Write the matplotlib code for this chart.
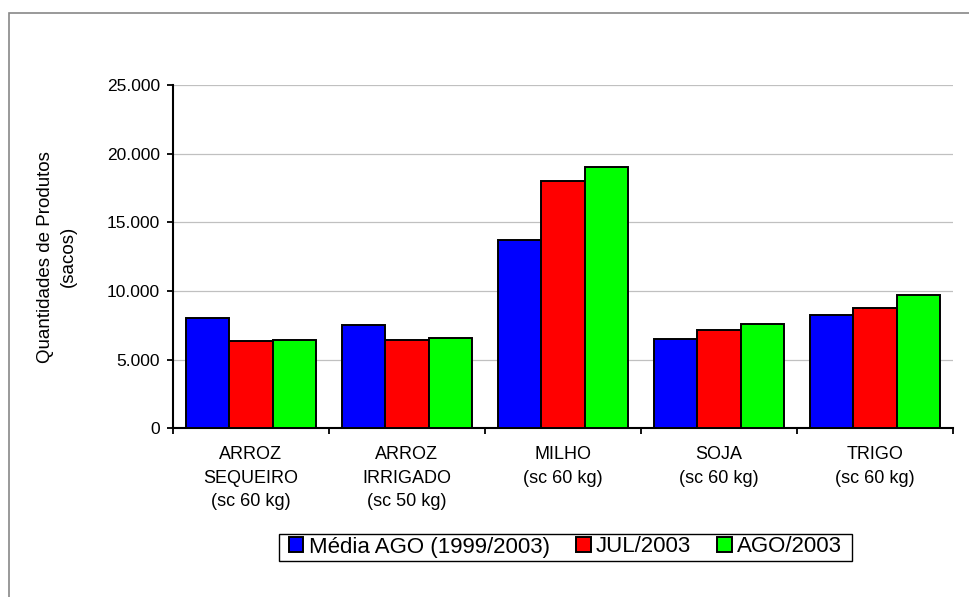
import numpy as np
import matplotlib
matplotlib.use("Agg")
import matplotlib.pyplot as plt
from matplotlib.patches import Rectangle
from matplotlib.ticker import FuncFormatter

plt.rcParams['font.family'] = ['Liberation Sans', 'DejaVu Sans']

categorias = ["ARROZ\nSEQUEIRO\n(sc 60 kg)", "ARROZ\nIRRIGADO\n(sc 50 kg)",
              "MILHO\n(sc 60 kg)", "SOJA\n(sc 60 kg)", "TRIGO\n(sc 60 kg)"]
media_ago = [8000, 7500, 13700, 6520, 8250]
jul_2003 = [6380, 6420, 18000, 7170, 8770]
ago_2003 = [6410, 6580, 19060, 7580, 9710]
series = ["Média AGO (1999/2003)", "JUL/2003", "AGO/2003"]
cores = ["#0000ff", "#ff0000", "#00ff00"]

W, H = 969, 597
fig = plt.figure(figsize=(W / 100, H / 100), dpi=100)
ax = fig.add_axes([173 / W, 1 - 428.3 / H, 780 / W, (428.3 - 85) / H])

x = np.arange(len(categorias)) + 0.5
larg = 0.278
barras = []
for i, (vals, cor) in enumerate(zip([media_ago, jul_2003, ago_2003], cores)):
    b = ax.bar(x + (i - 1) * larg, vals, larg, color=cor, edgecolor='black',
               linewidth=1.4, label=series[i], zorder=3)
    barras.append(b)

ax.set_xlim(0, len(categorias))
ax.set_ylim(0, 25000)
ax.set_yticks(np.arange(0, 25001, 5000))
ax.yaxis.set_major_formatter(FuncFormatter(lambda v, _: f"{int(v):,}".replace(",", ".")))
ax.yaxis.grid(True, color='#c0c0c0', linewidth=0.9)
ax.set_axisbelow(True)

ax.set_xticks(np.arange(0, len(categorias) + 1))
ax.set_xticklabels([])
ax.set_xticks(x, minor=True)
ax.set_xticklabels(categorias, minor=True, fontsize=13, linespacing=1.48)
ax.tick_params(axis='x', which='major', direction='out', length=4.5, width=1.3)
ax.tick_params(axis='x', which='minor', length=0, pad=13)
ax.tick_params(axis='y', direction='out', length=4.5, width=1.3, pad=5, labelsize=12.5)

for s in ['top', 'right']:
    ax.spines[s].set_visible(False)
for s in ['left', 'bottom']:
    ax.spines[s].set_linewidth(1.5)

ax.set_ylabel("Quantidades de Produtos\n(sacos)", fontsize=13.5, linespacing=1.45)
ax.yaxis.set_label_coords(-0.123, 0.5)

leg = fig.legend(handles=barras, labels=series, loc='center', ncol=3,
                 bbox_to_anchor=(565.5 / W, 1 - 547 / H), bbox_transform=fig.transFigure,
                 frameon=False, fontsize=16, borderpad=0, handlelength=0.66,
                 handleheight=0.66, handletextpad=0.23, columnspacing=1.19)

# caixa da legenda desenhada à mão (mais folga dos lados do que em cima/baixo)
fig.canvas.draw()
bb = leg.get_window_extent()
inv = fig.transFigure.inverted()
(x0, y0), (x1, y1) = inv.transform([(bb.x0 - 10, bb.y0 - 3), (bb.x1 + 10, bb.y1 + 3)])
fig.add_artist(Rectangle((x0, y0), x1 - x0, y1 - y0, transform=fig.transFigure,
                         fill=False, edgecolor='black', linewidth=1.0))

# moldura cinza do gráfico
fig.add_artist(Rectangle((8.5 / W, -0.1), 1.2, 1.1 - 13 / H, transform=fig.transFigure,
                         fill=False, edgecolor='#888888', linewidth=1.2, clip_on=False))

fig.savefig("out.png", dpi=100)
